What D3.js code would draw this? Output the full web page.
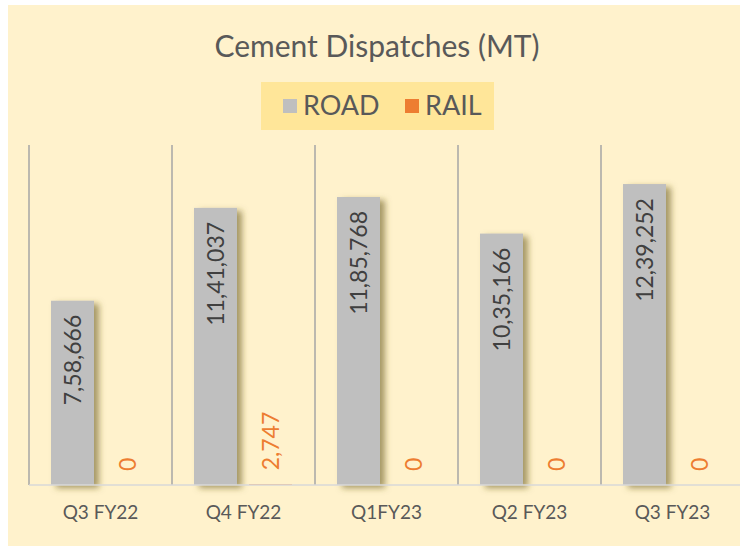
<!DOCTYPE html>
<html>
<head>
<meta charset="utf-8">
<script src="https://cdn.jsdelivr.net/npm/d3@7"></script>
<style>
  body { margin: 0; background: #ffffff; }
  text { font-family: "Gill Sans", Lato, "Open Sans", sans-serif; }
</style>
</head>
<body>
<script>
// chart data
const categories = ["Q3 FY22", "Q4 FY22", "Q1FY23", "Q2 FY23", "Q3 FY23"];
const seriesNames = ["ROAD", "RAIL"];
const roadValues = [758666, 1141037, 1185768, 1035166, 1239252];
const railValues = [0, 2747, 0, 0, 0];
const colors = ["#bfbfbf", "#ed7d31"];

// Indian style grouping: 12,39,252
function indianFormat(v) {
  let s = String(Math.round(v));
  if (s.length <= 3) return s;
  let last3 = s.slice(-3);
  let rest = s.slice(0, -3);
  rest = rest.replace(/\B(?=(\d{2})+(?!\d))/g, ",");
  return rest + "," + last3;
}

const width = 740, height = 546;
const svg = d3.select("body").append("svg")
  .attr("width", width)
  .attr("height", height);

// drop shadow for bars
const defs = svg.append("defs");
const filter = defs.append("filter").attr("id", "shadow")
  .attr("x", "-20%").attr("y", "-5%").attr("width", "160%").attr("height", "115%");
filter.append("feDropShadow")
  .attr("dx", 5).attr("dy", 3).attr("stdDeviation", 3)
  .attr("flood-color", "#6b5a1e").attr("flood-opacity", 0.6);

// background panel
svg.append("rect")
  .attr("x", 8).attr("y", 5)
  .attr("width", width - 8).attr("height", height - 5)
  .attr("fill", "#fff2cc");

// title
svg.append("text")
  .attr("x", 377).attr("y", 57)
  .attr("text-anchor", "middle")
  .attr("font-size", 30)
  .attr("fill", "#595959")
  .text("Cement Dispatches (MT)");

// legend
const legend = svg.append("g");
legend.append("rect")
  .attr("x", 261).attr("y", 82)
  .attr("width", 233).attr("height", 48)
  .attr("fill", "#ffe699");
const legendX = [283, 405];
seriesNames.forEach(function(name, i) {
  legend.append("rect")
    .attr("x", legendX[i]).attr("y", 99)
    .attr("width", 14).attr("height", 14)
    .attr("fill", colors[i]);
  legend.append("text")
    .attr("x", legendX[i] + 20).attr("y", 115)
    .attr("font-size", 27)
    .attr("fill", "#595959")
    .text(name);
});

// scales
const plotLeft = 29, bandW = 143, plotTop = 145, baseline = 485;
const x = d3.scaleBand()
  .domain(categories)
  .range([plotLeft, plotLeft + bandW * categories.length])
  .paddingInner(0).paddingOuter(0);
const y = d3.scaleLinear()
  .domain([0, 1400000])
  .range([baseline, plotTop]);

const barW = 43, gap = 12, offset = 22;

// vertical gridlines at category boundaries
const plot = svg.append("g");
for (var i = 0; i <= categories.length; i++) {
  let gx = plotLeft + i * bandW;
  plot.append("line")
    .attr("x1", gx).attr("x2", gx)
    .attr("y1", plotTop).attr("y2", baseline)
    .attr("stroke", "#a6a6a6")
    .attr("stroke-width", 1.5);
}

// bars
plot.selectAll(".road")
  .data(roadValues)
  .enter().append("rect")
  .attr("class", "road")
  .attr("x", function(d, i) { return x(categories[i]) + offset; })
  .attr("y", function(d) { return y(d); })
  .attr("width", barW)
  .attr("height", function(d) { return baseline - y(d); })
  .attr("fill", colors[0])
  .attr("filter", "url(#shadow)");

plot.selectAll(".rail")
  .data(railValues)
  .enter().append("rect")
  .attr("class", "rail")
  .attr("x", function(d, i) { return x(categories[i]) + offset + barW + gap; })
  .attr("y", function(d) { return y(d); })
  .attr("width", barW)
  .attr("height", function(d) { return baseline - y(d); })
  .attr("fill", colors[1]);

// baseline axis line
plot.append("line")
  .attr("x1", plotLeft).attr("x2", width)
  .attr("y1", baseline).attr("y2", baseline)
  .attr("stroke", "#d9d9d9")
  .attr("stroke-width", 1.5);

// value labels (rotated)
roadValues.forEach(function(d, i) {
  let cx = x(categories[i]) + offset + barW / 2;
  let ty = y(d) + 14;
  plot.append("text")
    .attr("transform", "translate(" + cx + "," + ty + ") rotate(-90)")
    .attr("text-anchor", "end")
    .attr("dy", "0.35em")
    .attr("font-size", 23)
    .attr("fill", "#404040")
    .text(indianFormat(d));
});
railValues.forEach(function(d, i) {
  let cx = x(categories[i]) + offset + barW + gap + barW / 2;
  let ty = y(d) - 14;
  plot.append("text")
    .attr("transform", "translate(" + cx + "," + ty + ") rotate(-90)")
    .attr("text-anchor", "start")
    .attr("dy", "0.35em")
    .attr("font-size", 23)
    .attr("fill", colors[1])
    .text(indianFormat(d));
});

// category axis
const xAxis = d3.axisBottom(x).tickSize(0).tickPadding(0);
const axisG = svg.append("g")
  .attr("transform", "translate(0," + baseline + ")")
  .call(xAxis);
axisG.select(".domain").remove();
axisG.selectAll("text")
  .attr("y", 34)
  .attr("dy", 0)
  .attr("font-size", 19)
  .attr("font-family", "\"Gill Sans\", Lato, \"Open Sans\", sans-serif")
  .attr("fill", "#595959");
</script>
</body>
</html>
